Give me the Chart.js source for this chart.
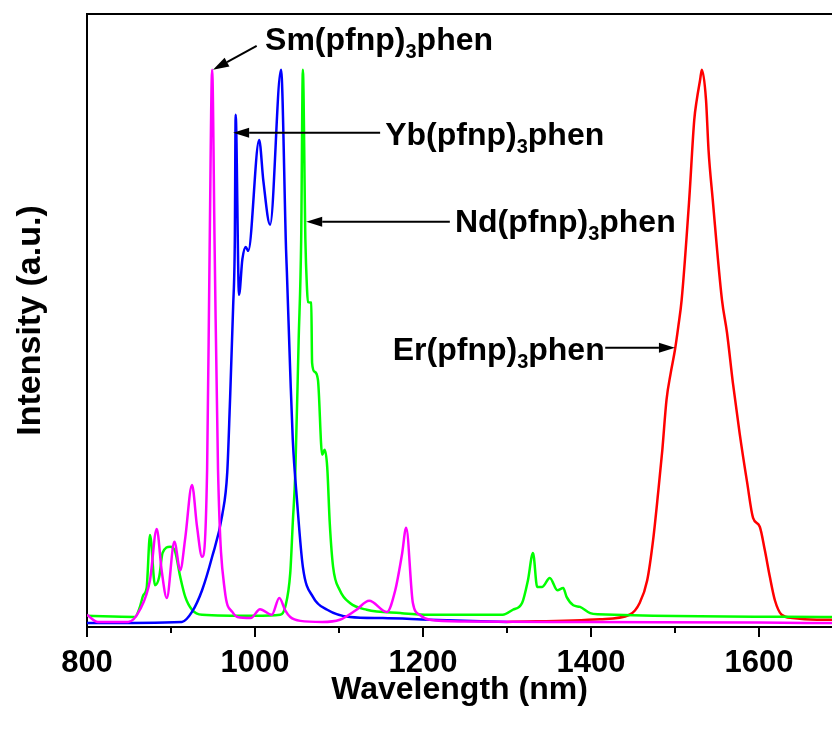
<!DOCTYPE html>
<html>
<head>
<meta charset="utf-8">
<script src="https://cdn.jsdelivr.net/npm/chart.js@4/dist/chart.umd.min.js"></script>
<style>
  html, body { margin: 0; padding: 0; background: #fff; }
  #wrap { width: 832px; height: 736px; }
</style>
</head>
<body>
<div id="wrap"><canvas id="myChart" width="832" height="736"></canvas></div>
<script>
// Sm(pfnp)3phen - magenta
var smX = [800, 813, 849, 863, 875, 883, 889, 895, 904, 911, 917, 925, 931, 937, 943, 946, 949, 952, 956, 964, 973, 979, 995, 1006, 1020, 1029, 1036, 1042, 1054, 1080, 1101, 1120, 1136, 1157, 1167, 1175, 1180, 1188, 1196, 1208, 1250, 1400, 1600, 1687];
var smY = [0.022, 0.009, 0.009, 0.031, 0.084, 0.176, 0.10, 0.052, 0.153, 0.102, 0.160, 0.255, 0.18, 0.126, 0.282, 0.677, 1.0, 0.677, 0.282, 0.066, 0.027, 0.018, 0.016, 0.032, 0.022, 0.052, 0.03, 0.018, 0.011, 0.009, 0.013, 0.03, 0.047, 0.027, 0.066, 0.13, 0.178, 0.043, 0.022, 0.013, 0.01, 0.009, 0.008, 0.007];

// Yb(pfnp)3phen - blue
var ybX = [800, 913, 925, 937, 949, 961, 967, 970, 974, 976, 977, 981, 985, 989, 992, 1005, 1010, 1018, 1031, 1037, 1038, 1042, 1045, 1050, 1057, 1069, 1086, 1113, 1152, 1208, 1300];
var ybY = [0.007, 0.009, 0.027, 0.066, 0.126, 0.201, 0.278, 0.395, 0.575, 0.695, 0.919, 0.596, 0.66, 0.682, 0.675, 0.874, 0.80, 0.722, 1.0, 0.677, 0.636, 0.456, 0.336, 0.228, 0.108, 0.054, 0.031, 0.018, 0.016, 0.013, 0.009];

// Nd(pfnp)3phen - green
var ndX = [800, 857, 863, 867, 871, 875, 881, 886, 890, 899, 905, 911, 917, 925, 937, 1000, 1030, 1036, 1042, 1045, 1048, 1052, 1055, 1057, 1060, 1062, 1063, 1067, 1068, 1071, 1075, 1080, 1083, 1086, 1089, 1093, 1101, 1113, 1133, 1173, 1208, 1295, 1307, 1318, 1325, 1331, 1336, 1342, 1351, 1360, 1367, 1371, 1379, 1387, 1399, 1408, 1687];
var ndY = [0.020, 0.018, 0.036, 0.057, 0.070, 0.165, 0.075, 0.090, 0.133, 0.144, 0.135, 0.090, 0.054, 0.031, 0.022, 0.020, 0.022, 0.036, 0.097, 0.187, 0.276, 0.515, 0.695, 1.0, 0.695, 0.605, 0.583, 0.582, 0.474, 0.458, 0.443, 0.309, 0.318, 0.287, 0.187, 0.108, 0.066, 0.043, 0.031, 0.025, 0.022, 0.022, 0.031, 0.043, 0.084, 0.133, 0.072, 0.072, 0.088, 0.066, 0.070, 0.054, 0.039, 0.036, 0.025, 0.023, 0.018];

// Er(pfnp)3phen - red
var erX = [1300, 1411, 1446, 1458, 1467, 1474, 1480, 1485, 1490, 1495, 1500, 1504, 1508, 1517, 1523, 1526, 1530, 1532, 1537, 1540, 1545, 1556, 1562, 1569, 1577, 1586, 1593, 1601, 1607, 1613, 1619, 1627, 1640, 1669, 1687];
var erY = [0.009, 0.014, 0.022, 0.043, 0.084, 0.156, 0.241, 0.318, 0.408, 0.456, 0.497, 0.539, 0.587, 0.767, 0.910, 0.946, 0.982, 1.0, 0.946, 0.856, 0.767, 0.587, 0.528, 0.438, 0.348, 0.259, 0.196, 0.180, 0.138, 0.090, 0.048, 0.022, 0.016, 0.013, 0.013];

var xMin = 800;
var xMax = 1687;
var xLabelStep = 200;
var minorTicks = [900, 1100, 1300, 1500];

// labels with arrows, given in data units
var notes = [
    { name: 'Sm', textX: 1012, textY: 1.057, fromX: 1002, fromY: 1.043, toX: 950, toY: 1.0 },
    { name: 'Yb', textX: 1155, textY: 0.887, fromX: 1149, fromY: 0.887, toX: 974, toY: 0.887 },
    { name: 'Nd', textX: 1238, textY: 0.731, fromX: 1232, fromY: 0.727, toX: 1061, toY: 0.727 },
    { name: 'Er', textX: 1164, textY: 0.501, fromX: 1417, fromY: 0.501, toX: 1500, toY: 0.501 }
];

var fontFamily = "'Liberation Sans', Arial, sans-serif";

function pts(xs, ys) {
    var out = [];
    for (var i = 0; i < xs.length; i++) out.push({ x: xs[i], y: ys[i] });
    return out;
}

function line(label, xs, ys, color) {
    return {
        label: label,
        data: pts(xs, ys),
        borderColor: color,
        backgroundColor: color,
        borderWidth: 2.5,
        pointRadius: 0,
        fill: false,
        cubicInterpolationMode: 'monotone'
    };
}

var framePlugin = {
    id: 'frame',
    afterDraw: function(chart) {
        var ctx = chart.ctx;
        var area = chart.chartArea;
        var xs = chart.scales.x;
        ctx.save();
        ctx.strokeStyle = '#000';
        ctx.lineWidth = 2;
        ctx.beginPath();
        ctx.moveTo(area.left - 1, area.top);
        ctx.lineTo(area.right, area.top);
        ctx.stroke();
        // short minor ticks
        minorTicks.forEach(function(v) {
            var px = Math.round(xs.getPixelForValue(v));
            ctx.beginPath();
            ctx.moveTo(px, area.bottom);
            ctx.lineTo(px, area.bottom + 6);
            ctx.stroke();
        });
        ctx.restore();
    }
};

function drawArrow(ctx, x1, y1, x2, y2) {
    var ang = Math.atan2(y2 - y1, x2 - x1);
    var len = 16, half = 5;
    var bx = x2 - len * Math.cos(ang);
    var by = y2 - len * Math.sin(ang);
    ctx.beginPath();
    ctx.moveTo(x1, y1);
    ctx.lineTo(bx, by);
    ctx.stroke();
    ctx.beginPath();
    ctx.moveTo(x2, y2);
    ctx.lineTo(bx + half * Math.sin(ang), by - half * Math.cos(ang));
    ctx.lineTo(bx - half * Math.sin(ang), by + half * Math.cos(ang));
    ctx.closePath();
    ctx.fill();
}

var notePlugin = {
    id: 'notes',
    afterDatasetsDraw: function(chart) {
        var ctx = chart.ctx;
        var xs = chart.scales.x, ys = chart.scales.y;
        ctx.save();
        ctx.fillStyle = '#000';
        ctx.strokeStyle = '#000';
        ctx.lineWidth = 2;
        notes.forEach(function(n) {
            drawArrow(ctx, xs.getPixelForValue(n.fromX), ys.getPixelForValue(n.fromY),
                      xs.getPixelForValue(n.toX), ys.getPixelForValue(n.toY));
            var tx = xs.getPixelForValue(n.textX);
            var ty = ys.getPixelForValue(n.textY);
            ctx.textBaseline = 'alphabetic';
            ctx.textAlign = 'left';
            var base = ty + 12;
            ctx.font = 'bold 32px ' + fontFamily;
            var a = n.name + '(pfnp)';
            ctx.fillText(a, tx, base);
            tx += ctx.measureText(a).width;
            ctx.font = 'bold 20px ' + fontFamily;
            ctx.fillText('3', tx, base + 8);
            tx += ctx.measureText('3').width;
            ctx.font = 'bold 32px ' + fontFamily;
            ctx.fillText('phen', tx, base);
        });
        ctx.restore();
    }
};

var ctx = document.getElementById('myChart');
var chart = new Chart(ctx, {
    type: 'line',
    data: {
        datasets: [
            line('Sm(pfnp)3phen', smX, smY, '#ff00ff'),
            line('Yb(pfnp)3phen', ybX, ybY, '#0000ff'),
            line('Nd(pfnp)3phen', ndX, ndY, '#00ff00'),
            line('Er(pfnp)3phen', erX, erY, '#ff0000')
        ]
    },
    options: {
        responsive: false,
        animation: false,
        layout: { padding: { top: 14, right: 0, left: 0, bottom: 0 } },
        plugins: {
            legend: { display: false },
            tooltip: { enabled: false }
        },
        scales: {
            x: {
                type: 'linear',
                min: xMin,
                max: xMax,
                afterFit: function(s) { s.height = 109; },
                border: { display: true, color: '#000', width: 2 },
                grid: { drawOnChartArea: false, drawTicks: true, tickLength: 10, color: '#000', lineWidth: 2 },
                ticks: {
                    stepSize: xLabelStep,
                    includeBounds: false,
                    padding: 8,
                    color: '#000',
                    maxRotation: 0,
                    callback: function(v) { return String(v); },
                    font: { family: fontFamily, size: 31, weight: 'bold' }
                },
                title: {
                    display: true,
                    text: 'Wavelength (nm)',
                    color: '#000',
                    padding: { top: 0, bottom: 27 },
                    font: { family: fontFamily, size: 32, weight: 'bold' }
                }
            },
            y: {
                min: 0,
                max: 1.1,
                afterFit: function(s) { s.width = 87; },
                border: { display: true, color: '#000', width: 2 },
                grid: { display: false },
                ticks: { display: false },
                title: {
                    display: true,
                    text: 'Intensity (a.u.)',
                    color: '#000',
                    padding: { top: 10, bottom: 0 },
                    font: { family: fontFamily, size: 34, weight: 'bold' }
                }
            }
        }
    },
    plugins: [framePlugin, notePlugin]
});
</script>
</body>
</html>
